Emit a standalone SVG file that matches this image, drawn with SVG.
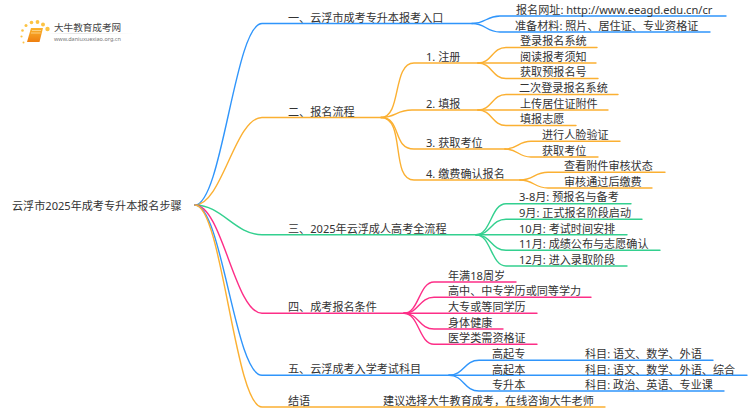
<svg xmlns="http://www.w3.org/2000/svg" width="750" height="410" viewBox="0 0 750 410">
<style>
text{font-family:"Noto Sans","Noto Sans CJK SC",sans-serif;font-size:11.100px;fill:#333}
.c{fill:none;stroke-width:1.400;stroke-linecap:round}
.b{stroke:#2f95fb}.o{stroke:#fbb032}.g{stroke:#33d08f}.p{stroke:#fd2e87}
</style>
<defs><linearGradient id="bk" x1="0" y1="0" x2="0" y2="1"><stop offset="0" stop-color="#fbb32c"/><stop offset="1" stop-color="#ee7f10"/></linearGradient>
<linearGradient id="ln" x1="0" y1="0" x2="1" y2="0"><stop offset="0" stop-color="#ddd" stop-opacity="0"/><stop offset=".3" stop-color="#ddd"/><stop offset="1" stop-color="#ddd" stop-opacity="0"/></linearGradient></defs>
<rect width="750" height="410" fill="#fff"/>
<g id="connectors">
<path class="c b" d="M195 205C222 205 235 23.500 262 23.500H472"/>
<path class="c o" d="M195 205C222 205 235 117.500 262 117.500H381"/>
<path class="c g" d="M195 205C222 205 235 234.700 262 234.700H476"/>
<path class="c p" d="M195 205C222 205 235 313.300 262 313.300H404"/>
<path class="c b" d="M195 205C222 205 235 375.300 262 375.300H449"/>
<path class="c o" d="M195 205C222 205 235 407 262 407H605"/>
<path class="c b" d="M472 23.500C486 23.500 486 16 500 16H726"/>
<path class="c b" d="M472 23.500C486 23.500 486 32 500 32H710"/>
<path class="c o" d="M381 117.500C402 117.500 392 63 414 63H478"/>
<path class="c o" d="M381 117.500C396 117.500 396 110 412 110H478"/>
<path class="c o" d="M381 117.500C402 117.500 392 149 414 149H505"/>
<path class="c o" d="M381 117.500C406 117.500 390 180 414 180H520"/>
<path class="c o" d="M478 63C492 63 492 47.500 506 47.500H597"/>
<path class="c o" d="M478 63H596"/>
<path class="c o" d="M478 63C492 63 492 78.500 506 78.500H598"/>
<path class="c o" d="M478 110C492 110 492 94.500 506 94.500H618"/>
<path class="c o" d="M478 110H608"/>
<path class="c o" d="M478 110C492 110 492 125.500 506 125.500H576"/>
<path class="c o" d="M505 149C518 149 518 141.300 531 141.300H620"/>
<path class="c o" d="M505 149C518 149 518 157 531 157H598"/>
<path class="c o" d="M520 180C534 180 534 172.300 548 172.300H665"/>
<path class="c o" d="M520 180C534 180 534 188 548 188H652"/>
<path class="c g" d="M476 234.700C491 234.700 491 203.700 506 203.700H631"/>
<path class="c g" d="M476 234.700C491 234.700 491 219.300 506 219.300H642"/>
<path class="c g" d="M476 234.700H627"/>
<path class="c g" d="M476 234.700C491 234.700 491 250.300 506 250.300H660"/>
<path class="c g" d="M476 234.700C491 234.700 491 266 506 266H627"/>
<path class="c p" d="M404 313.300C419 313.300 419 282 434 282H516"/>
<path class="c p" d="M404 313.300C419 313.300 419 297.300 434 297.300H591"/>
<path class="c p" d="M404 313.300H537"/>
<path class="c p" d="M404 313.300C419 313.300 419 329 434 329H503"/>
<path class="c p" d="M404 313.300C419 313.300 419 344.300 434 344.300H537"/>
<path class="c b" d="M449 375.300C464 375.300 464 360.300 479 360.300H713"/>
<path class="c b" d="M449 375.300H747"/>
<path class="c b" d="M449 375.300C464 375.300 464 391 479 391H724"/>
</g>
<g id="logo">
<g fill="#fcc343"><circle cx="47.500" cy="29" r="2.200"/><circle cx="43" cy="24.500" r="2"/><circle cx="37.500" cy="22" r="1.900"/><circle cx="31.500" cy="22.500" r="1.800"/><circle cx="26" cy="25.500" r="1.500"/><circle cx="22.500" cy="30.500" r="1.300"/><circle cx="21.500" cy="36.500" r="1.100"/><circle cx="23.500" cy="42.500" r="1"/></g>
<path d="M31 28H43L39.500 42H27Z" fill="url(#bk)"/>
<path d="M32 30.500H41M31 33H40.500" stroke="#fde2a8" stroke-width=".7" fill="none"/>
<rect x="48" y="33" width="85" height=".8" fill="url(#ln)"/>
<text x="54" y="30.500" style="font-size:9.600px;fill:#444">大牛教育成考网</text>
<text x="54" y="41" style="font-size:5.500px;fill:#777">www.daniuxuexiao.org.cn</text>
</g>
<g id="root"><text x="12" y="209.500">云浮市2025年成考专升本报名步骤</text></g>
<g id="n1"><text x="288" y="21.500">一、云浮市成考专升本报考入口</text></g>
<g id="n1a"><text x="516" y="13.500">报名网址: http://www.eeagd.edu.cn/cr</text></g>
<g id="n1b"><text x="515" y="29.500">准备材料: 照片、居住证、专业资格证</text></g>
<g id="n2"><text x="288" y="115.500">二、报名流程</text></g>
<g id="n21"><text x="426" y="60.500">1. 注册</text></g>
<g id="n211"><text x="520" y="45">登录报名系统</text></g>
<g id="n212"><text x="520" y="60.500">阅读报考须知</text></g>
<g id="n213"><text x="520" y="76">获取预报名号</text></g>
<g id="n22"><text x="426" y="107.500">2. 填报</text></g>
<g id="n221"><text x="519" y="92">二次登录报名系统</text></g>
<g id="n222"><text x="520" y="107.500">上传居住证附件</text></g>
<g id="n223"><text x="520" y="123">填报志愿</text></g>
<g id="n23"><text x="426" y="146.500">3. 获取考位</text></g>
<g id="n231"><text x="542" y="139">进行人脸验证</text></g>
<g id="n232"><text x="542" y="154.500">获取考位</text></g>
<g id="n24"><text x="426" y="177.500">4. 缴费确认报名</text></g>
<g id="n241"><text x="564" y="170">查看附件审核状态</text></g>
<g id="n242"><text x="564" y="185.500">审核通过后缴费</text></g>
<g id="n3"><text x="288" y="232.500">三、2025年云浮成人高考全流程</text></g>
<g id="n31"><text x="519" y="201">3-8月: 预报名与备考</text></g>
<g id="n32"><text x="519" y="217">9月: 正式报名阶段启动</text></g>
<g id="n33"><text x="519" y="232.500">10月: 考试时间安排</text></g>
<g id="n34"><text x="519" y="248">11月: 成绩公布与志愿确认</text></g>
<g id="n35"><text x="519" y="263.500">12月: 进入录取阶段</text></g>
<g id="n4"><text x="288" y="311">四、成考报名条件</text></g>
<g id="n41"><text x="448" y="279.500">年满18周岁</text></g>
<g id="n42"><text x="448" y="295">高中、中专学历或同等学力</text></g>
<g id="n43"><text x="448" y="311">大专或等同学历</text></g>
<g id="n44"><text x="448" y="326.500">身体健康</text></g>
<g id="n45"><text x="448" y="342">医学类需资格证</text></g>
<g id="n5"><text x="288" y="373">五、云浮成考入学考试科目</text></g>
<g id="n51"><text x="492" y="358">高起专</text><text x="585" y="358">科目: 语文、数学、外语</text></g>
<g id="n52"><text x="492" y="373.500">高起本</text><text x="585" y="373.500">科目: 语文、数学、外语、综合</text></g>
<g id="n53"><text x="492" y="389">专升本</text><text x="585" y="389">科目: 政治、英语、专业课</text></g>
<g id="n6"><text x="288" y="405">结语</text><text x="383" y="405">建议选择大牛教育成考，在线咨询大牛老师</text></g>
</svg>
